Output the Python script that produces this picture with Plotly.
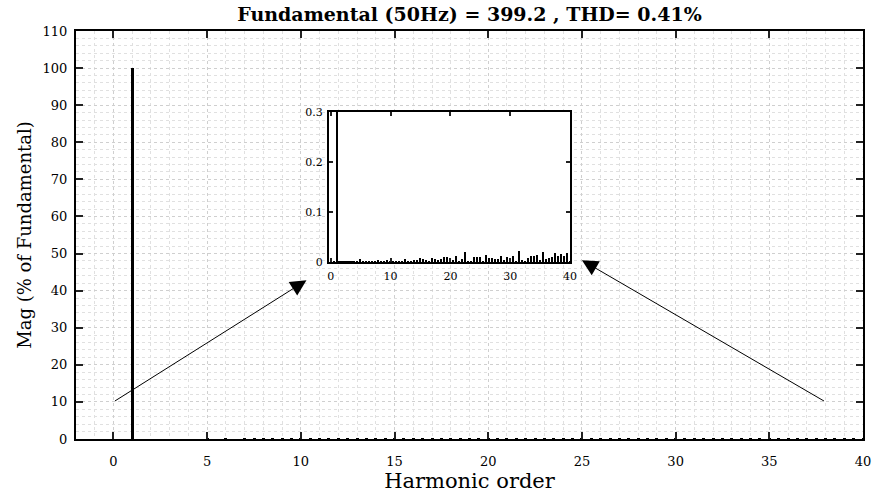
import plotly.graph_objects as go

# Harmonic spectrum (% of fundamental), 0.5-harmonic bins from 0 to 40
harmonic_order = [i * 0.5 for i in range(81)]
magnitude = [
    0.000, 0.001, 100.0, 0.001, 0.001, 0.001, 0.001, 0.001, 0.001, 0.001,   # 0 - 4.5
    0.007, 0.001, 0.002, 0.001, 0.003, 0.002, 0.004, 0.002, 0.002, 0.004,   # 5 - 9.5
    0.002, 0.003, 0.002, 0.002, 0.002, 0.006, 0.002, 0.003, 0.004, 0.005,   # 10 - 14.5
    0.008, 0.007, 0.004, 0.003, 0.009, 0.006, 0.005, 0.006, 0.010, 0.010,   # 15 - 19.5
    0.009, 0.005, 0.012, 0.002, 0.007, 0.020, 0.003, 0.002, 0.010, 0.010,   # 20 - 24.5
    0.011, 0.003, 0.014, 0.008, 0.009, 0.007, 0.006, 0.013, 0.004, 0.010,   # 25 - 29.5
    0.006, 0.013, 0.003, 0.023, 0.004, 0.002, 0.009, 0.012, 0.013, 0.015,   # 30 - 34.5
    0.005, 0.020, 0.007, 0.009, 0.011, 0.018, 0.012, 0.016, 0.012, 0.018,   # 35 - 39.5
    0.003,                                                                  # 40
]

title_text = "Fundamental (50Hz) = 399.2 , THD= 0.41%"
x_title = "Harmonic order"
y_title = "Mag (% of Fundamental)"

inset_xrange = [-0.3, 40]
inset_yrange = [0, 0.3]

FONT = "DejaVu Serif"

fig = go.Figure()

# main spectrum
fig.add_trace(go.Bar(
    x=harmonic_order, y=magnitude, width=0.16,
    marker=dict(color="black", line=dict(width=0)),
    xaxis="x", yaxis="y", showlegend=False, hoverinfo="skip",
))
# zoomed inset spectrum
fig.add_trace(go.Bar(
    x=harmonic_order, y=magnitude, width=0.26,
    marker=dict(color="black", line=dict(width=0)),
    xaxis="x2", yaxis="y2", showlegend=False,
))

grid_col = "#cfcfcf"
minor_col = "#e0e0e0"

fig.update_layout(
    width=873, height=493,
    margin=dict(l=76, r=10, t=31, b=54),
    paper_bgcolor="white", plot_bgcolor="white",
    bargap=0,
    font=dict(family=FONT, color="black", size=13),
    title=dict(text="<b>" + title_text + "</b>", x=0.5, xref="paper",
               y=1 - 14 / 493, yref="container", yanchor="middle",
               font=dict(family=FONT, size=19, color="black")),
    xaxis=dict(
        domain=[0, 1], range=[-2, 40], tick0=0, dtick=5, automargin=False,
        showline=True, linecolor="black", linewidth=2, mirror="ticks",
        ticks="inside", ticklen=7, tickwidth=2, tickcolor="#222",
        ticklabelstandoff=9,
        showgrid=True, gridcolor=grid_col, griddash="dot", gridwidth=1,
        minor=dict(dtick=1, showgrid=True, gridcolor=minor_col, griddash="dot",
                   ticks=""),
        zeroline=False,
        title=dict(text=x_title, font=dict(family=FONT, size=21), standoff=7),
        tickfont=dict(family=FONT, size=13),
    ),
    yaxis=dict(
        domain=[0, 1], range=[0, 110], tick0=0, dtick=10, automargin=False,
        showline=True, linecolor="black", linewidth=2, mirror="ticks",
        ticks="inside", ticklen=7, tickwidth=2, tickcolor="#222",
        ticklabelstandoff=4,
        showgrid=True, gridcolor=grid_col, griddash="dot", gridwidth=1,
        minor=dict(dtick=2, showgrid=True, gridcolor=minor_col, griddash="dot",
                   ticks=""),
        zeroline=False,
        title=dict(text=y_title, font=dict(family=FONT, size=18), standoff=6),
        tickfont=dict(family=FONT, size=13),
    ),
    xaxis2=dict(
        domain=[0.3215, 0.6277], anchor="y2", range=inset_xrange, automargin=False,
        tickvals=[0, 10, 20, 30, 40],
        showline=True, linecolor="black", linewidth=2, mirror="ticks",
        ticks="inside", ticklen=4, tickwidth=2, tickcolor="#222",
        ticklabelstandoff=3,
        showgrid=False, zeroline=False,
        tickfont=dict(family=FONT, size=11),
    ),
    yaxis2=dict(
        domain=[0.4338, 0.8015], anchor="x2", range=inset_yrange, automargin=False,
        tickvals=[0, 0.1, 0.2, 0.3], ticktext=["0", "0.1", "0.2", "0.3"],
        showline=True, linecolor="black", linewidth=2, mirror="ticks",
        ticks="inside", ticklen=4, tickwidth=2, tickcolor="#222",
        ticklabelstandoff=2,
        showgrid=False, zeroline=False,
        tickfont=dict(family=FONT, size=11),
    ),
)

# white background of the inset, drawn in the inset subplot below its bars
fig.add_shape(type="rect", xref="x2", yref="y2",
              x0=inset_xrange[0], x1=inset_xrange[1],
              y0=inset_yrange[0], y1=inset_yrange[1],
              fillcolor="white", line=dict(width=0), layer="below")

# arrows pointing to the inset
arrow_common = dict(xref="x", yref="y", axref="x", ayref="y",
                    showarrow=True, arrowhead=2, arrowsize=3.2,
                    arrowwidth=1, arrowcolor="black", text="")
fig.add_annotation(x=10.3, y=42.8, ax=0, ay=10, **arrow_common)
fig.add_annotation(x=25.0, y=48.2, ax=38, ay=10, **arrow_common)

fig.write_html("out.html")
